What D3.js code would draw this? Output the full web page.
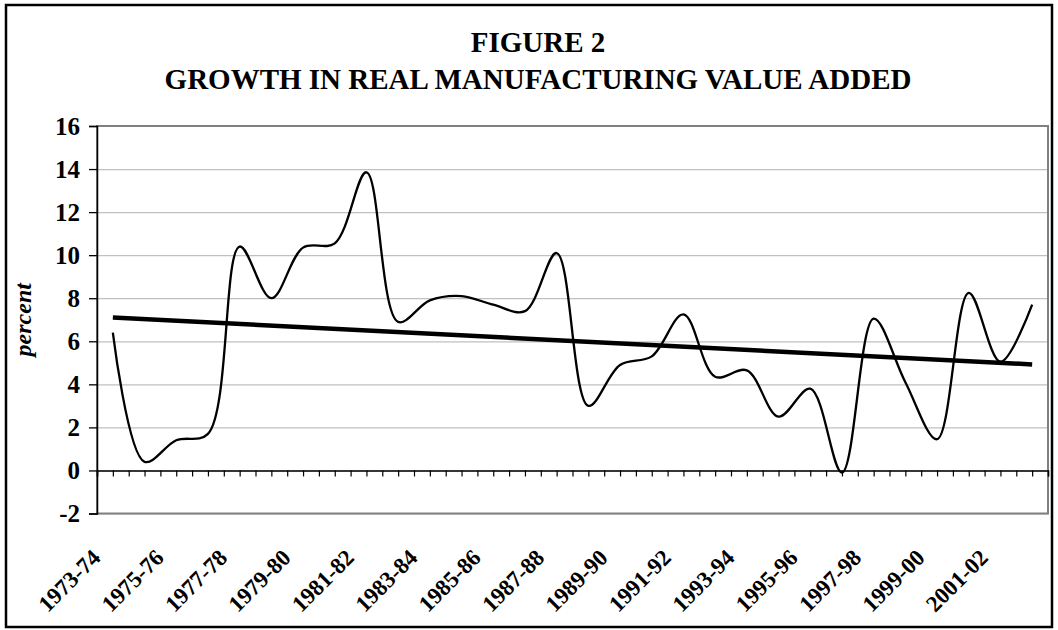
<!DOCTYPE html>
<html>
<head>
<meta charset="utf-8">
<script src="https://cdn.jsdelivr.net/npm/d3@7"></script>
<style>
  body { margin: 0; background: #fff; }
  text { font-family: "Liberation Serif", "Times New Roman", serif; font-weight: bold; fill: #000; }
</style>
</head>
<body>
<svg></svg>
<script>
const svg = d3.select("svg");
svg.attr("width", 1058).attr("height", 630);

// data
const categories = [
  "1973-74", "1974-75", "1975-76", "1976-77", "1977-78", "1978-79",
  "1979-80", "1980-81", "1981-82", "1982-83", "1983-84", "1984-85",
  "1985-86", "1986-87", "1987-88", "1988-89", "1989-90", "1990-91",
  "1991-92", "1992-93", "1993-94", "1994-95", "1995-96", "1996-97",
  "1997-98", "1998-99", "1999-00", "2000-01", "2001-02", "2002-03"
];
const growth = [
  6.4, 0.4, 1.4, 1.7, 10.4, 8.0, 10.35, 10.55, 13.85, 6.9,
  7.9, 8.1, 7.7, 7.4, 10.1, 3.0, 4.9, 5.3, 7.25, 4.35,
  4.65, 2.5, 3.8, -0.1, 7.05, 4.1, 1.45, 8.25, 5.05, 7.7
];
const yTicks = [-2, 0, 2, 4, 6, 8, 10, 12, 14, 16];
const labelled = categories.filter((d, i) => i % 2 === 0);

const titleLines = ["FIGURE 2", "GROWTH IN REAL MANUFACTURING VALUE ADDED"];
const yAxisLabel = "percent";

const plot = { left: 97, right: 1048, top: 126, bottom: 513.5 };
const plotW = plot.right - plot.left;

// outer border
svg.append("rect")
  .attr("x", 6).attr("y", 5)
  .attr("width", 1046).attr("height", 622)
  .attr("fill", "none")
  .attr("stroke", "#000")
  .attr("stroke-width", 2.5);

// title
svg.append("text")
  .attr("x", 538).attr("y", 52)
  .attr("text-anchor", "middle")
  .style("font-size", "29px")
  .text(titleLines[0]);
svg.append("text")
  .attr("x", 538).attr("y", 89)
  .attr("text-anchor", "middle")
  .style("font-size", "29px")
  .text(titleLines[1]);

const xScale = d3.scaleBand().domain(categories).range([plot.left, plot.right]);
const xc = (c) => xScale(c) + xScale.bandwidth() / 2;
const yScale = d3.scaleLinear().domain([-2, 16]).range([plot.bottom, plot.top]);

// gridlines
const grid = svg.append("g").attr("transform", `translate(${plot.left},0)`);
grid.call(d3.axisLeft(yScale).tickValues(yTicks).tickSize(-plotW).tickFormat(""));
grid.select(".domain").remove();
grid.selectAll(".tick line").attr("stroke", "#c0c0c0").attr("stroke-width", 1.2);

// plot frame
svg.append("rect")
  .attr("x", plot.left).attr("y", plot.top)
  .attr("width", plotW).attr("height", plot.bottom - plot.top)
  .attr("fill", "none")
  .attr("stroke", "#808080")
  .attr("stroke-width", 2);

// y axis
const yAxisG = svg.append("g").attr("transform", `translate(${plot.left},0)`);
yAxisG.call(
  d3.axisLeft(yScale).tickValues(yTicks).tickSize(8).tickPadding(9)
    .tickFormat((d) => String(d))
);
yAxisG.select(".domain").attr("stroke", "#000").attr("stroke-width", 1.5);
yAxisG.selectAll(".tick line").attr("stroke", "#000").attr("stroke-width", 1.3);
yAxisG.selectAll(".tick text")
  .attr("dy", "0.32em")
  .style("font-size", "25px")
  .style("font-family", "'Liberation Serif', serif")
  .style("font-weight", "bold");

// category axis at zero, ticks every half category
const halfScale = d3.scaleLinear().domain([0, categories.length]).range([plot.left, plot.right]);
const xAxisG = svg.append("g").attr("transform", `translate(0,${yScale(0)})`);
xAxisG.call(
  d3.axisBottom(halfScale)
    .tickValues(d3.range(0, categories.length * 2 + 1).map((k) => k / 2))
    .tickSize(6)
    .tickFormat("")
);
xAxisG.select(".domain").attr("stroke", "#000").attr("stroke-width", 1.5);
xAxisG.selectAll(".tick line").attr("stroke", "#000").attr("stroke-width", 1.2);

// category labels (below plot, rotated)
svg.append("g")
  .selectAll("text")
  .data(labelled)
  .enter()
  .append("text")
  .attr("transform", (d) => `translate(${xc(d) - 11},559) rotate(-45)`)
  .attr("text-anchor", "end")
  .style("font-size", "23px")
  .text((d) => d);

// y axis label
svg.append("text")
  .attr("transform", `translate(31,${(plot.top + plot.bottom) / 2}) rotate(-90)`)
  .attr("text-anchor", "middle")
  .style("font-size", "24px")
  .style("font-style", "italic")
  .text(yAxisLabel);

// smoothed series
const line = d3.line()
  .x((d, i) => xc(categories[i]))
  .y((d) => yScale(d))
  .curve(d3.curveCatmullRom.alpha(0.5));

svg.append("path")
  .datum(growth)
  .attr("d", line)
  .attr("fill", "none")
  .attr("stroke", "#000")
  .attr("stroke-width", 2.3);

// linear trend (least squares)
const n = growth.length;
const xs = d3.range(n);
const mx = d3.mean(xs);
const my = d3.mean(growth);
const slope = d3.sum(xs, (i) => (i - mx) * (growth[i] - my)) / d3.sum(xs, (i) => (i - mx) * (i - mx));
const intercept = my - slope * mx;
const trend = [0, n - 1].map((i) => ({ c: categories[i], v: intercept + slope * i }));

svg.append("path")
  .datum(trend)
  .attr("d", d3.line().x((d) => xc(d.c)).y((d) => yScale(d.v)))
  .attr("fill", "none")
  .attr("stroke", "#000")
  .attr("stroke-width", 4.5);
</script>
</body>
</html>
